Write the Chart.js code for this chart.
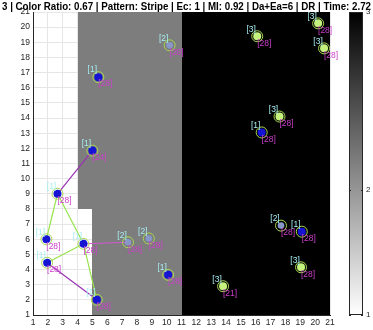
<!DOCTYPE html>
<html>
<head>
<meta charset="utf-8">
<script src="https://cdn.jsdelivr.net/npm/chart.js@4.4.1/dist/chart.umd.min.js"></script>
<style>
html, body { margin: 0; padding: 0; background: #fff; }
canvas { display: block; }
</style>
</head>
<body>
<canvas id="map-canvas" width="373" height="330"></canvas>
<script>
var titleText = "3 | Color Ratio: 0.67 | Pattern: Stripe | Ec: 1 | MI: 0.92 | Da+Ea=6 | DR | Time: 2.72"

// agents
var agentX = [5.4, 10.2, 16.1, 20.2, 20.6, 17.6, 16.4, 5.0, 2.65, 1.9, 1.95, 4.4, 5.3, 7.4, 8.8, 10.1, 13.8, 17.7, 19.1, 19.05]
var agentY = [16.7, 18.8, 19.4, 20.25, 18.6, 14.1, 13.05, 11.85, 9.0, 6.0, 4.45, 5.7, 2.0, 5.8, 6.05, 3.65, 2.9, 6.9, 6.5, 4.15]
var agentGroup = [1, 2, 3, 3, 3, 3, 1, 1, 1, 1, 1, 1, 1, 2, 2, 1, 3, 2, 1, 3]
var agentTag = [28, 28, 28, 28, 28, 28, 28, 24, 28, 28, 28, 28, 28, 28, 28, 28, 21, 28, 28, 28]

// links between agents (1-based)
var greenLinks = [[9, 10], [9, 12], [12, 11], [12, 13]]
var purpleLinks = [[8, 9], [11, 13]]
var pinkLinks = [[12, 14]]

// map cells (overlapping rects)
var cellX0 = [4, 5, 11]
var cellX1 = [11, 11, 21]
var cellY0 = [8, 1, 1]
var cellY1 = [21, 21, 21]
var cellLevel = [2, 2, 3]

var axisTicks = [1, 2, 3, 4, 5, 6, 7, 8, 9, 10, 11, 12, 13, 14, 15, 16, 17, 18, 19, 20, 21]
var colorbarTicks = ["3", "2", "1"]

var levelColor = { 1: '#ffffff', 2: '#7d7d7d', 3: '#000000' }
var groupFill = { 1: '#1414d2', 2: '#8797c8', 3: '#c4f27c' }
var labelFont = '8.5px "Liberation Sans", Arial, sans-serif'

function groupPoints(g) {
    var pts = []
    for (var i = 0; i < agentX.length; i++) {
        if (agentGroup[i] === g) pts.push({ x: agentX[i], y: agentY[i] })
    }
    return pts
}

function linkSets(links, color, width) {
    return links.map(function(l) {
        return {
            type: 'line',
            data: [{ x: agentX[l[0] - 1], y: agentY[l[0] - 1] }, { x: agentX[l[1] - 1], y: agentY[l[1] - 1] }],
            borderColor: color,
            borderWidth: width,
            pointRadius: 0,
            showLine: true,
            order: 5
        }
    })
}

var datasets = []
datasets = datasets.concat(linkSets(greenLinks, '#97e44a', 1.2))
datasets = datasets.concat(linkSets(purpleLinks, '#9a32b4', 1.2))
datasets = datasets.concat(linkSets(pinkLinks, '#d458d4', 1))

datasets.push({
    data: agentX.map(function(x, i) { return { x: x, y: agentY[i] } }),
    pointRadius: 5.5,
    pointBackgroundColor: 'rgba(0,0,0,0)',
    pointBorderColor: '#a8d850',
    pointBorderWidth: 1,
    order: 2
})
;[1, 2, 3].forEach(function(g) {
    datasets.push({
        data: groupPoints(g),
        pointRadius: g === 2 ? 3.3 : 4,
        pointBackgroundColor: groupFill[g],
        pointBorderWidth: 0,
        order: 1
    })
})

var cellPlugin = {
    id: 'cells',
    beforeDatasetsDraw: function(chart) {
        var c = chart.ctx, xs = chart.scales.x, ys = chart.scales.y, a = chart.chartArea
        c.save()
        c.beginPath()
        c.rect(a.left, a.top, a.right - a.left, a.bottom - a.top)
        c.clip()
        for (var i = 0; i < cellX0.length; i++) {
            var x0 = Math.round(xs.getPixelForValue(cellX0[i])), x1 = Math.round(xs.getPixelForValue(cellX1[i]))
            var y0 = Math.round(ys.getPixelForValue(cellY1[i])), y1 = Math.round(ys.getPixelForValue(cellY0[i]))
            c.fillStyle = levelColor[cellLevel[i]]
            c.fillRect(x0, y0, x1 - x0, y1 - y0)
        }
        c.restore()
    }
}

var labelPlugin = {
    id: 'agentLabels',
    afterDatasetsDraw: function(chart) {
        var c = chart.ctx, xs = chart.scales.x, ys = chart.scales.y
        c.save()
        c.font = labelFont
        c.textAlign = 'center'
        c.textBaseline = 'middle'
        for (var i = 0; i < agentX.length; i++) {
            var px = xs.getPixelForValue(agentX[i]), py = ys.getPixelForValue(agentY[i])
            c.fillStyle = '#a6eef2'
            c.fillText('[' + agentGroup[i] + ']', px - 6, py - 7)
            c.fillStyle = '#cc3fcc'
            c.fillText('[' + agentTag[i] + ']', px + 7, py + 7)
        }
        c.restore()
    }
}

var decorPlugin = {
    id: 'decor',
    afterDraw: function(chart) {
        var c = chart.ctx, a = chart.chartArea
        c.save()
        // title
        c.font = 'bold 11px "Liberation Sans", Arial, sans-serif'
        c.fillStyle = '#000'
        c.textAlign = 'center'
        c.textBaseline = 'alphabetic'
        var w = c.measureText(titleText).width
        c.translate(186.5, 9.5)
        c.scale(369 / w, 1)
        c.fillText(titleText, 0, 0)
        c.restore()

        // colorbar
        c.save()
        var bx = 349, bw = 14, top = a.top, bot = a.bottom
        var grad = c.createLinearGradient(0, top, 0, bot)
        grad.addColorStop(0, '#000000')
        grad.addColorStop(1, '#ffffff')
        c.fillStyle = grad
        c.fillRect(bx, top, bw, bot - top)
        c.strokeStyle = '#262626'
        c.lineWidth = 1
        c.strokeRect(bx + 0.5, top + 0.5, bw - 1, bot - top - 1)
        var pos = [top, 190, bot]
        c.font = '8px "Liberation Sans", Arial, sans-serif'
        c.fillStyle = '#262626'
        c.textAlign = 'left'
        c.textBaseline = 'middle'
        for (var i = 0; i < colorbarTicks.length; i++) {
            c.beginPath()
            c.moveTo(bx, pos[i] + 0.5); c.lineTo(bx + 2, pos[i] + 0.5)
            c.moveTo(bx + bw - 2, pos[i] + 0.5); c.lineTo(bx + bw, pos[i] + 0.5)
            c.stroke()
            c.fillText(colorbarTicks[i], bx + bw + 3, pos[i])
        }
        c.restore()
    }
}

document.addEventListener("DOMContentLoaded", function() {
    var ctx = document.getElementById("map-canvas").getContext('2d')
    new Chart(ctx, {
        type: 'scatter',
        data: { datasets: datasets },
        plugins: [cellPlugin, labelPlugin, decorPlugin],
        options: {
            responsive: false,
            animation: false,
            events: [],
            layout: { padding: { top: 12, right: 43, left: 0, bottom: 0 } },
            plugins: { legend: { display: false }, tooltip: { enabled: false } },
            scales: {
                x: {
                    type: 'linear', min: 1, max: 21,
                    afterBuildTicks: function(s) { s.ticks = axisTicks.map(function(v) { return { value: v } }) },
                    afterFit: function(s) { s.height = 15; s.paddingLeft = 0; s.paddingRight = 0 },
                    ticks: { color: '#262626', font: { size: 8.5, family: '"Liberation Sans", Arial' }, padding: 3, maxRotation: 0, autoSkip: false },
                    grid: { color: '#e6e6e6', drawTicks: false },
                    border: { color: '#262626' }
                },
                y: {
                    type: 'linear', min: 1, max: 21,
                    afterBuildTicks: function(s) { s.ticks = axisTicks.map(function(v) { return { value: v } }) },
                    afterFit: function(s) { s.width = 33; s.paddingTop = 0; s.paddingBottom = 0 },
                    ticks: { color: '#262626', font: { size: 8.5, family: '"Liberation Sans", Arial' }, padding: 3, autoSkip: false },
                    grid: { color: '#e6e6e6', drawTicks: false },
                    border: { color: '#262626' }
                }
            }
        }
    })
})
</script>
</body>
</html>
